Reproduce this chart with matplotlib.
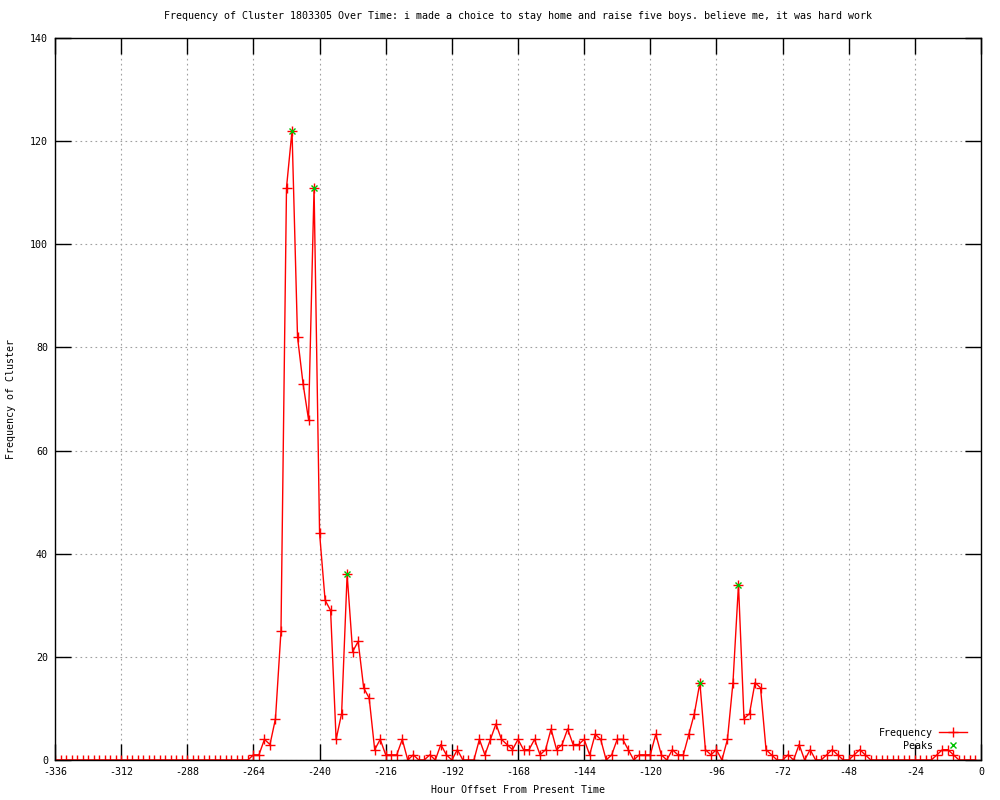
import matplotlib.pyplot as plt
import numpy as np

# hour offsets, one sample every 2 hours
hours = np.arange(-336, 0, 2)

# non-zero counts keyed by hour offset, everything else is 0
nonzero = {
    -264: 1, -262: 1, -260: 4, -258: 3, -256: 8, -254: 25, -252: 111,
    -250: 122, -248: 82, -246: 73, -244: 66, -242: 111, -240: 44,
    -238: 31, -236: 29, -234: 4, -232: 9, -230: 36, -228: 21, -226: 23,
    -224: 14, -222: 12, -220: 2, -218: 4, -216: 1, -214: 1, -212: 1,
    -210: 4, -206: 1, -200: 1, -196: 3, -194: 1, -190: 2, -182: 4,
    -180: 1, -178: 4, -176: 7, -174: 4, -172: 3, -170: 2, -168: 4,
    -166: 2, -164: 2, -162: 4, -160: 1, -158: 2, -156: 6, -154: 2,
    -152: 3, -150: 6, -148: 3, -146: 3, -144: 4, -142: 1, -140: 5,
    -138: 4, -134: 1, -132: 4, -130: 4, -128: 2, -124: 1, -122: 1,
    -120: 1, -118: 5, -116: 1, -112: 2, -110: 1, -108: 1, -106: 5,
    -104: 9, -102: 15, -100: 2, -98: 1, -96: 2, -92: 4, -90: 15,
    -88: 34, -86: 8, -84: 9, -82: 15, -80: 14, -78: 2, -76: 1,
    -70: 1, -66: 3, -62: 2, -56: 1, -54: 2, -52: 1, -46: 1, -44: 2,
    -42: 1, -16: 1, -14: 2, -12: 2, -10: 1,
}
freq = [nonzero.get(int(h), 0) for h in hours]

peak_hours = [-250, -242, -230, -102, -88]
peak_vals = [122, 111, 36, 15, 34]

title = ('Frequency of Cluster 1803305 Over Time: i made a choice to stay '
         'home and raise five boys. believe me, it was hard work')

plt.rcParams['font.family'] = 'DejaVu Sans Mono'
plt.rcParams['font.size'] = 7.2
plt.rcParams['axes.unicode_minus'] = False

fig = plt.figure(figsize=(10, 8), dpi=100)
ax = fig.add_axes([0.055, 0.05, 0.926, 0.9025])

ax.plot(hours, freq, color='red', lw=1.0, marker='+', markersize=6.5,
        markeredgewidth=1.0, label='Frequency')
ax.plot(peak_hours, peak_vals, color='#00c000', lw=0, marker='x',
        markersize=5, markeredgewidth=1.0, label='Peaks')

ax.set_xlim(-336, 0)
ax.set_ylim(0, 140)
ax.set_xticks(np.arange(-336, 1, 24))
ax.set_yticks(np.arange(0, 141, 20))
ax.tick_params(direction='in', length=11.5, width=1, top=True, right=True,
               colors='black', pad=5)
ax.grid(True, color='#a0a0a0', linestyle=(0, (1.5, 3)), lw=0.8)
for s in ax.spines.values():
    s.set_linewidth(1)

ax.set_title(title, fontsize=7.2, pad=14)
ax.set_xlabel('Hour Offset From Present Time', labelpad=6)
ax.set_ylabel('Frequency of Cluster', labelpad=10)

leg = ax.legend(loc='lower right', markerfirst=False, frameon=False,
                handlelength=2.8, borderaxespad=0.4, labelspacing=0.3,
                handletextpad=0.6, bbox_to_anchor=(0.993, 0.002))

plt.savefig('out.png')
